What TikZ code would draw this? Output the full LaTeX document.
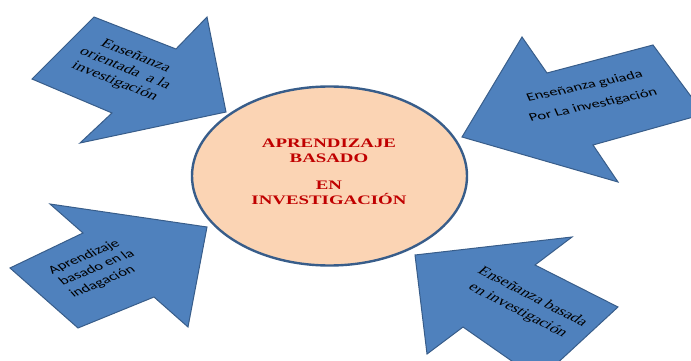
\documentclass[tikz,border=0pt]{standalone}
\usepackage{fontspec}
\setmainfont{Liberation Serif}
\newfontfamily\calibri{Carlito}
\usetikzlibrary{shapes.geometric, positioning}
\definecolor{azulflecha}{HTML}{4F81BD}
\definecolor{azulborde}{HTML}{385D8A}
\definecolor{durazno}{HTML}{FBD4B4}
\definecolor{rojotitulo}{HTML}{C00000}
\tikzset{
  flecha/.style={fill=azulflecha, draw=azulborde, line width=1pt, line join=miter},
  rotulo/.style={align=center, inner sep=0pt, font=\fontsize{12.5}{14.5}\selectfont},
  rotulocal/.style={align=center, inner sep=0pt, font=\calibri\fontsize{11.5}{14}\selectfont},
}
\begin{document}
\begin{tikzpicture}[x=1pt,y=-1pt]
    \useasboundingbox (0,0) rectangle (691,361);
    \clip (0,0) rectangle (691,361);

    % las cuatro flechas
    \draw[flecha] (94,17) -- (176,49) -- (207,17) -- (226,112) -- (80,143) -- (112,113) -- (32,79) -- cycle;
    \draw[flecha] (462,137) -- (522,37) -- (547,73) -- (653,45) -- (704,114) -- (593,145) -- (618,182) -- cycle;
    \draw[flecha] (10,268) -- (83,233) -- (50,204) -- (207,227) -- (188,327) -- (154,297) -- (78,328) -- cycle;
    \draw[flecha] (415,255) -- (572,237) -- (535,265) -- (618,307) -- (539,380) -- (463,327) -- (427,354) -- cycle;

    \node[ellipse, draw=azulborde, fill=durazno, line width=2.4pt, inner sep=0pt,
          minimum width=275pt, minimum height=179pt] (elipse) at (329.5,176) {};

    \node[align=center, inner sep=0pt, text=rojotitulo, xscale=1.45,
          font=\bfseries\fontsize{13}{15}\selectfont] (titulo) at (329,172)
          {APRENDIZAJE\\BASADO\\[12pt]EN\\INVESTIGACIÓN};

    \node[rotulo, xscale=1.45, rotate=-30] (orientada) at (125,69) {Enseñanza\\orientada\ \ a la\\investigación};
    \node[rotulocal, align=center, font=\calibri\fontsize{11.5}{20}\selectfont, xscale=1.45, rotate=17] (guiada) at (589,96) {Enseñanza guiada\\Por La investigación};
    \node[rotulocal, align=left, xscale=1.45, rotate=31.6] (indagacion) at (97,268) {Aprendizaje\\basado en la\\indagación};
    \node[rotulo, font=\fontsize{12.5}{17}\selectfont, xscale=1.45, rotate=-36.5] (basada) at (525,304) {Enseñanza basada\\en investigación};
\end{tikzpicture}
\end{document}
